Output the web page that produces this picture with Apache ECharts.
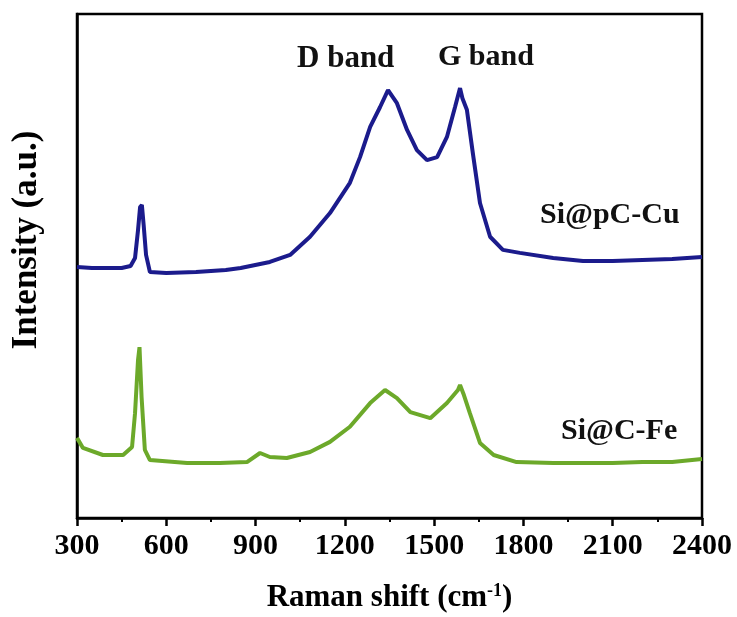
<!DOCTYPE html>
<html>
<head>
<meta charset="utf-8">
<title>Raman</title>
<script src="https://cdn.jsdelivr.net/npm/echarts@6/dist/echarts.min.js"></script>
<style>
  html, body { margin: 0; padding: 0; background: #fff; }
  #chart { width: 737px; height: 617px; }
</style>
</head>
<body>
<div id="chart"></div>
<script>
// Si@pC-Cu 光谱 (Raman shift, intensity a.u.)
const cuShift = [300, 350, 400, 450, 480, 495, 505, 512, 518, 524, 532, 545, 600, 700, 800, 850, 948, 1016, 1083, 1150, 1217, 1251, 1285, 1318, 1345, 1375, 1409, 1442, 1476, 1510, 1543, 1570, 1587, 1595, 1610, 1630, 1654, 1688, 1731, 1788, 1900, 2000, 2100, 2200, 2300, 2400];
const cuIntensity = [49.8, 49.6, 49.6, 49.6, 50.0, 51.6, 57.1, 61.7, 62.1, 58.1, 52.2, 48.8, 48.6, 48.8, 49.2, 49.6, 50.8, 52.2, 55.8, 60.5, 66.5, 71.6, 77.6, 81.5, 84.9, 82.3, 77.0, 73.0, 71.0, 71.6, 75.6, 81.5, 85.3, 83.3, 81.0, 72.4, 62.5, 55.8, 53.2, 52.6, 51.6, 51.0, 51.0, 51.2, 51.4, 51.8];

// Si@C-Fe 光谱
const feShift = [300, 320, 387, 455, 485, 495, 505, 510, 517, 528, 545, 670, 780, 871, 915, 948, 1005, 1083, 1150, 1217, 1285, 1335, 1375, 1420, 1487, 1543, 1580, 1587, 1600, 1620, 1654, 1700, 1777, 1900, 2000, 2100, 2200, 2300, 2400];
const feIntensity = [15.9, 13.9, 12.5, 12.5, 14.1, 20.8, 31.3, 33.9, 24.0, 13.5, 11.5, 10.9, 10.9, 11.1, 12.9, 12.1, 11.9, 13.1, 15.1, 18.1, 22.8, 25.4, 23.8, 21.0, 19.8, 22.8, 25.4, 26.4, 24.4, 20.8, 14.9, 12.5, 11.1, 10.9, 10.9, 10.9, 11.1, 11.1, 11.7];

const xTicks = [300, 600, 900, 1200, 1500, 1800, 2100, 2400];

const FONT = "'Liberation Serif', 'Times New Roman', serif";

const pairs = (xs, ys) => xs.map((x, i) => [x, ys[i]]);

const chart = echarts.init(document.getElementById("chart"));

const option = {
  backgroundColor: "#ffffff",
  animation: false,
  grid: {
    left: 77,
    right: 35,
    top: 14,
    bottom: 99,
    // 不让标签把绘图区挤小
    outerBoundsMode: "none",
    containLabel: false,
    show: true,
    borderColor: "#000",
    borderWidth: 2.5,
  },
  xAxis: {
    type: "value",
    min: xTicks[0],
    max: xTicks[xTicks.length - 1],
    interval: 300,
    name: "Raman shift (cm{sup|-1})",
    nameLocation: "middle",
    nameGap: 64,
    nameTextStyle: {
      fontFamily: FONT,
      fontWeight: "bold",
      fontSize: 31,
      color: "#000",
      rich: {
        sup: {
          fontFamily: FONT,
          fontWeight: "bold",
          fontSize: 18,
          color: "#000",
          verticalAlign: "top",
          padding: [0, 0, 14, 0],
        },
      },
    },
    axisLine: { onZero: false, lineStyle: { color: "#000", width: 2.5 } },
    axisTick: { show: true, length: 8, lineStyle: { color: "#000", width: 2.5 } },
    minorTick: { show: true, splitNumber: 2, length: 4, lineStyle: { color: "#000", width: 2 } },
    splitLine: { show: false },
    axisLabel: {
      margin: 13,
      fontFamily: FONT,
      fontWeight: "bold",
      fontSize: 30,
      color: "#000",
      formatter: (v) => String(v),
    },
  },
  yAxis: {
    type: "value",
    min: 0,
    max: 100,
    axisLine: { show: true, lineStyle: { color: "#000", width: 2.5 } },
    axisTick: { show: false },
    axisLabel: { show: false },
    splitLine: { show: false },
  },
  series: [
    {
      name: "Si@pC-Cu",
      type: "line",
      data: pairs(cuShift, cuIntensity),
      showSymbol: false,
      lineStyle: { color: "#1b1b8c", width: 4 },
    },
    {
      name: "Si@C-Fe",
      type: "line",
      data: pairs(feShift, feIntensity),
      showSymbol: false,
      lineStyle: { color: "#6ca92a", width: 4 },
    },
  ],
  graphic: [
    {
      // 纵轴标题
      type: "text",
      x: 27,
      y: 240,
      rotation: Math.PI / 2,
      style: {
        text: "Intensity (a.u.)",
        font: "bold 35px " + FONT,
        fill: "#000",
        align: "center",
        verticalAlign: "middle",
      },
    },
    {
      type: "text",
      left: 297,
      top: 43,
      style: { text: "D band", font: "bold 31px " + FONT, fill: "#111" },
    },
    {
      type: "text",
      left: 438,
      top: 42,
      style: { text: "G band", font: "bold 30px " + FONT, fill: "#111" },
    },
    {
      type: "text",
      left: 540,
      top: 200,
      style: { text: "Si@pC-Cu", font: "bold 30px " + FONT, fill: "#111" },
    },
    {
      type: "text",
      left: 561,
      top: 416,
      style: { text: "Si@C-Fe", font: "bold 30px " + FONT, fill: "#111" },
    },
  ],
};

chart.setOption(option);
</script>
</body>
</html>
